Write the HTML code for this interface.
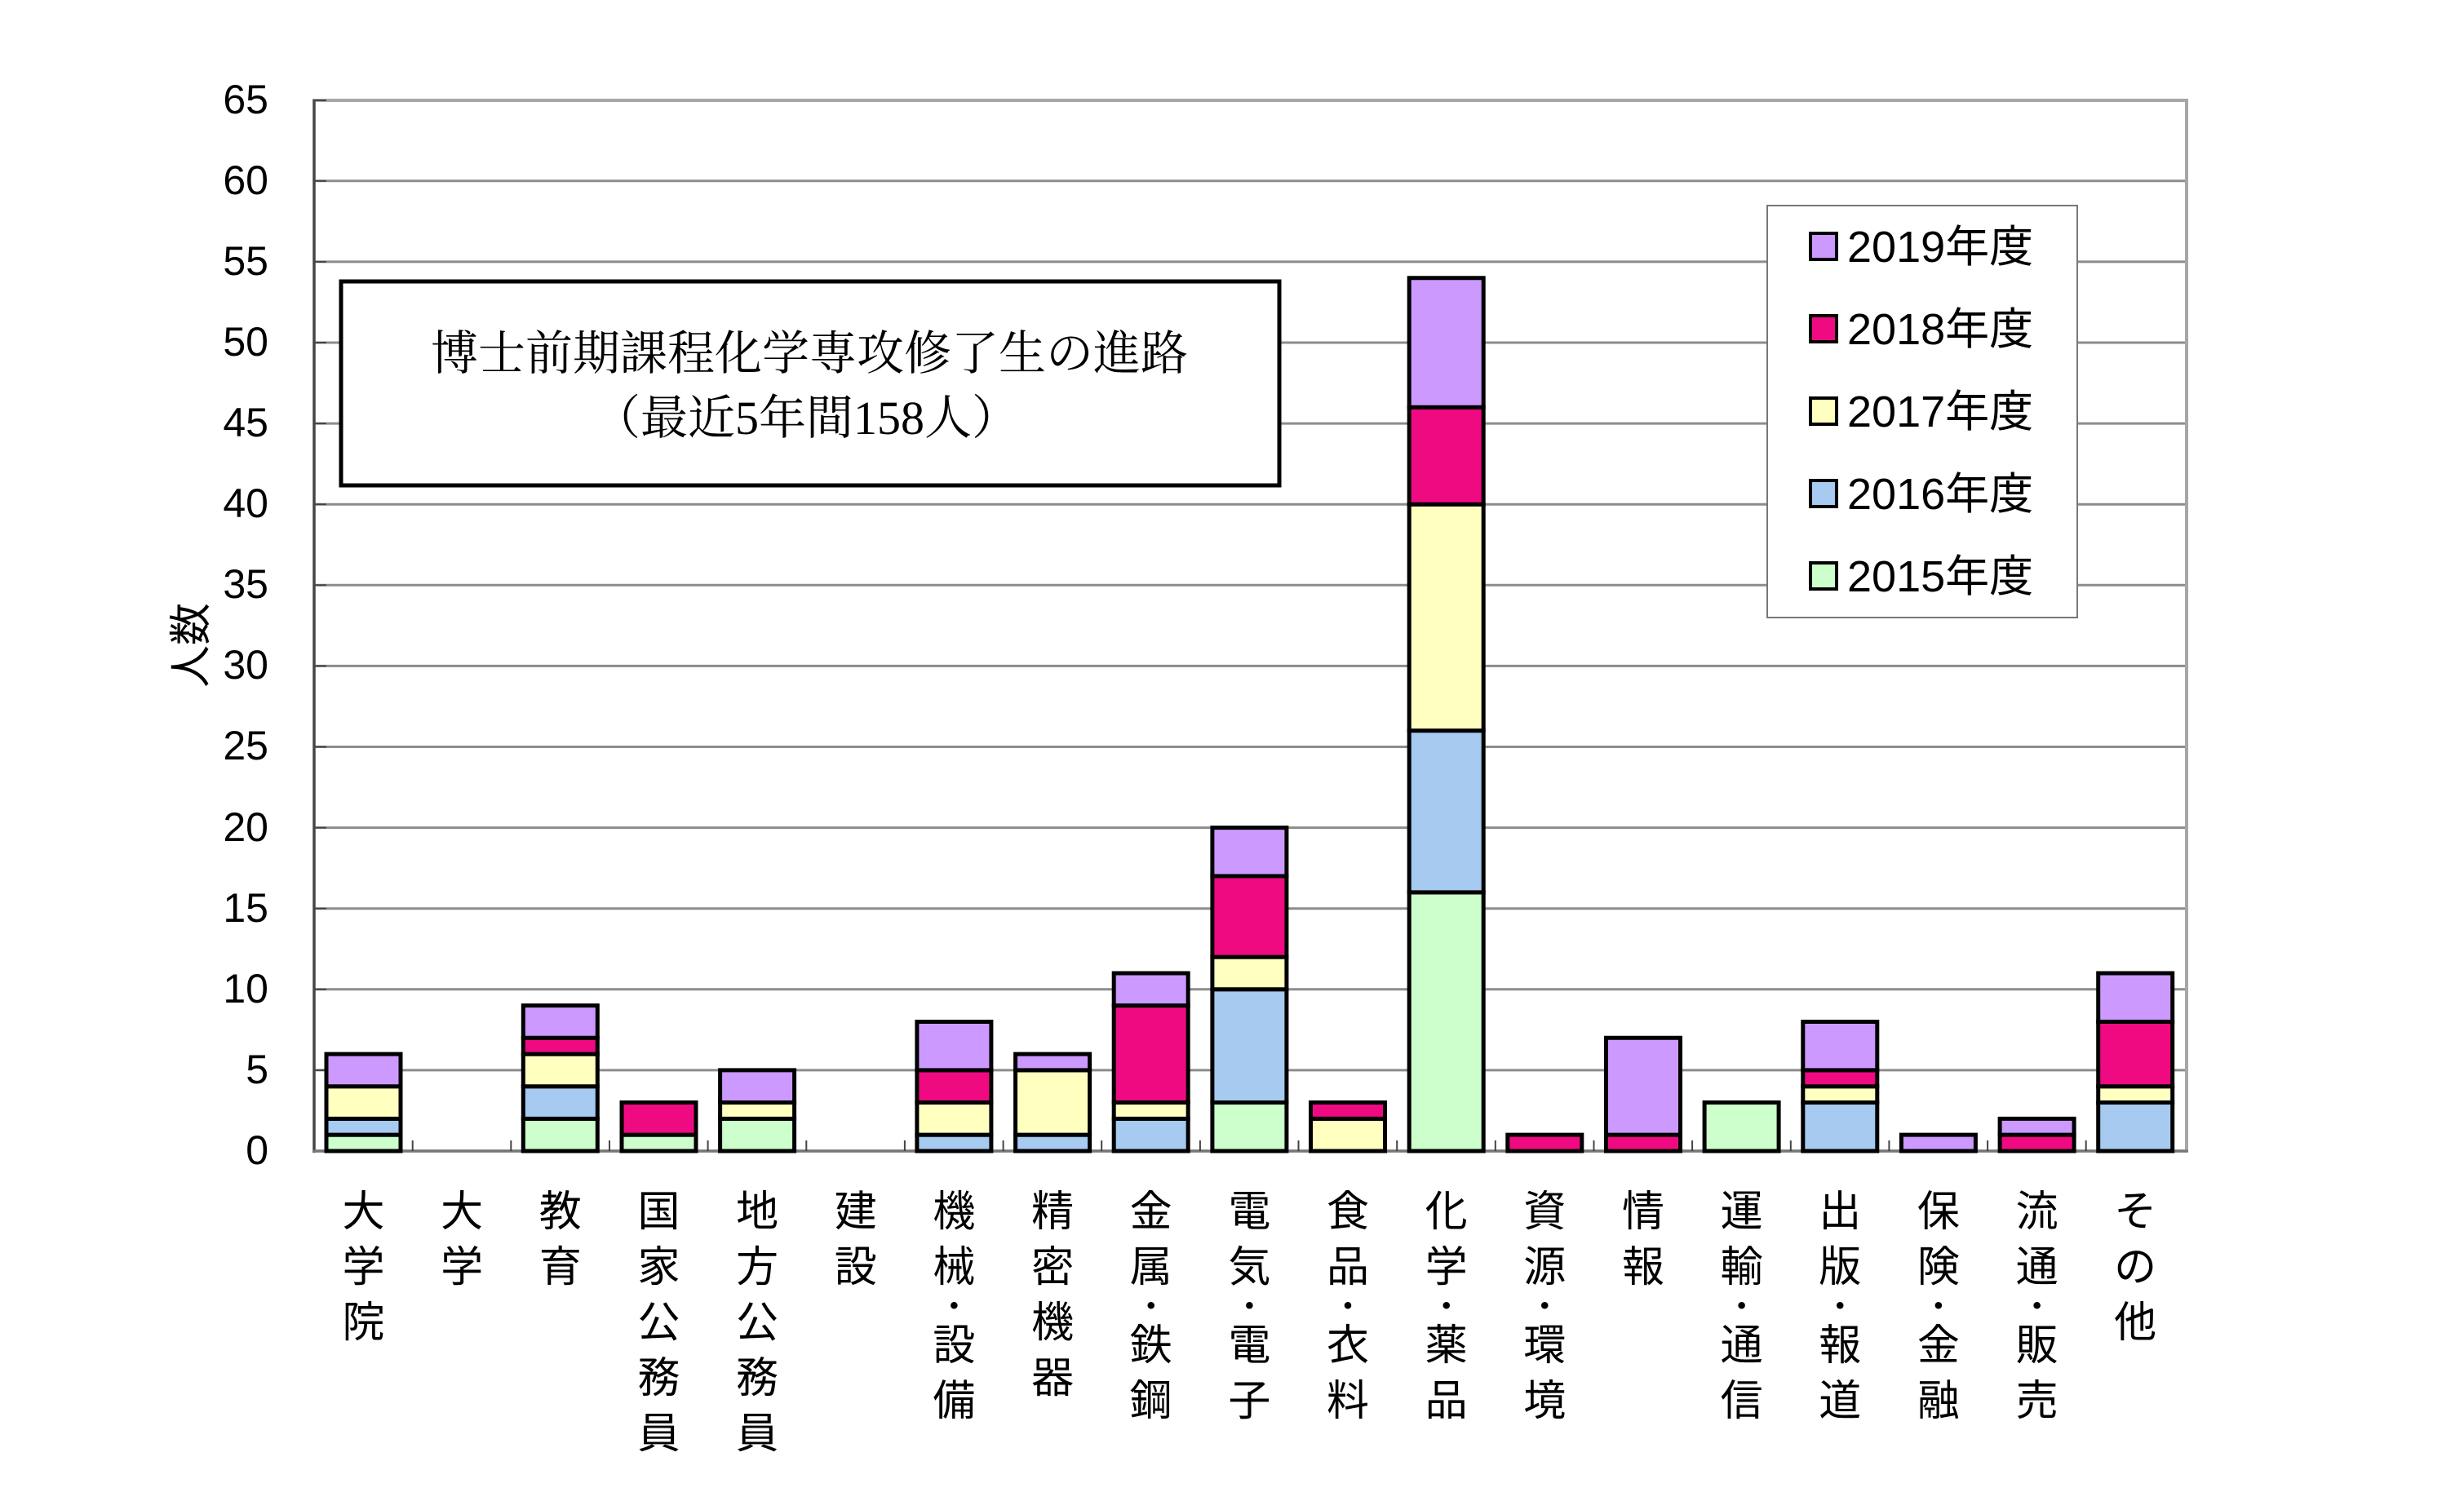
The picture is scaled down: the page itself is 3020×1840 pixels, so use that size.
<!DOCTYPE html>
<html><head><meta charset="utf-8"><style>
html,body{margin:0;padding:0;background:#fff;}
body{width:3020px;height:1840px;position:relative;overflow:hidden;font-family:"Liberation Sans","Noto Sans CJK JP",sans-serif;}
.xl{position:absolute;top:1452px;width:80px;margin-left:-40px;text-align:center;font-size:52px;color:#000;}
.xl div{height:68px;line-height:68px;}
.xl div.d{height:28px;line-height:28px;font-size:40px;}
.yt{position:absolute;width:100px;text-align:right;left:229px;font-size:50px;line-height:50px;margin-top:-26px;}
</style></head><body>
<svg width="3020" height="1840" style="position:absolute;left:0;top:0">
<g stroke="#8c8c8c" stroke-width="3">
<line x1="385" x2="2680" y1="1311.9" y2="1311.9"/>
<line x1="385" x2="2680" y1="1212.8" y2="1212.8"/>
<line x1="385" x2="2680" y1="1113.7" y2="1113.7"/>
<line x1="385" x2="2680" y1="1014.6" y2="1014.6"/>
<line x1="385" x2="2680" y1="915.5" y2="915.5"/>
<line x1="385" x2="2680" y1="816.4" y2="816.4"/>
<line x1="385" x2="2680" y1="717.3" y2="717.3"/>
<line x1="385" x2="2680" y1="618.2" y2="618.2"/>
<line x1="385" x2="2680" y1="519.1" y2="519.1"/>
<line x1="385" x2="2680" y1="420" y2="420"/>
<line x1="385" x2="2680" y1="320.9" y2="320.9"/>
<line x1="385" x2="2680" y1="221.8" y2="221.8"/>
</g>
<rect x="385" y="123" width="2295" height="1288" fill="none" stroke="#a6a6a6" stroke-width="4"/>
<line x1="385" x2="385" y1="122" y2="1413" stroke="#444" stroke-width="3"/>
<line x1="383" x2="2682" y1="1411" y2="1411" stroke="#777" stroke-width="3"/>
<g stroke="#444" stroke-width="2">
<line x1="385" x2="400" y1="123" y2="123"/><line x1="385" x2="400" y1="221.8" y2="221.8"/><line x1="385" x2="400" y1="320.9" y2="320.9"/><line x1="385" x2="400" y1="420" y2="420"/><line x1="385" x2="400" y1="519.1" y2="519.1"/><line x1="385" x2="400" y1="618.2" y2="618.2"/><line x1="385" x2="400" y1="717.3" y2="717.3"/><line x1="385" x2="400" y1="816.4" y2="816.4"/><line x1="385" x2="400" y1="915.5" y2="915.5"/><line x1="385" x2="400" y1="1014.6" y2="1014.6"/><line x1="385" x2="400" y1="1113.7" y2="1113.7"/><line x1="385" x2="400" y1="1212.8" y2="1212.8"/><line x1="385" x2="400" y1="1311.9" y2="1311.9"/>
<line x1="505.7" x2="505.7" y1="1398" y2="1411"/><line x1="626.3" x2="626.3" y1="1398" y2="1411"/><line x1="747" x2="747" y1="1398" y2="1411"/><line x1="867.6" x2="867.6" y1="1398" y2="1411"/><line x1="988.3" x2="988.3" y1="1398" y2="1411"/><line x1="1108.9" x2="1108.9" y1="1398" y2="1411"/><line x1="1229.6" x2="1229.6" y1="1398" y2="1411"/><line x1="1350.2" x2="1350.2" y1="1398" y2="1411"/><line x1="1470.9" x2="1470.9" y1="1398" y2="1411"/><line x1="1591.5" x2="1591.5" y1="1398" y2="1411"/><line x1="1712.2" x2="1712.2" y1="1398" y2="1411"/><line x1="1832.8" x2="1832.8" y1="1398" y2="1411"/><line x1="1953.5" x2="1953.5" y1="1398" y2="1411"/><line x1="2074.1" x2="2074.1" y1="1398" y2="1411"/><line x1="2194.8" x2="2194.8" y1="1398" y2="1411"/><line x1="2315.4" x2="2315.4" y1="1398" y2="1411"/><line x1="2436.1" x2="2436.1" y1="1398" y2="1411"/><line x1="2556.7" x2="2556.7" y1="1398" y2="1411"/>
</g>
<g transform="translate(0,1411) scale(1,-19.82)" stroke="#000" stroke-width="5">
<rect vector-effect="non-scaling-stroke" x="400" width="91" y="0" height="1" fill="#CCFFCC"/>
<rect vector-effect="non-scaling-stroke" x="400" width="91" y="1" height="1" fill="#A6CAF0"/>
<rect vector-effect="non-scaling-stroke" x="400" width="91" y="2" height="2" fill="#FFFFC0"/>
<rect vector-effect="non-scaling-stroke" x="400" width="91" y="4" height="2" fill="#CC99FF"/>
<rect vector-effect="non-scaling-stroke" x="641.3" width="91" y="0" height="2" fill="#CCFFCC"/>
<rect vector-effect="non-scaling-stroke" x="641.3" width="91" y="2" height="2" fill="#A6CAF0"/>
<rect vector-effect="non-scaling-stroke" x="641.3" width="91" y="4" height="2" fill="#FFFFC0"/>
<rect vector-effect="non-scaling-stroke" x="641.3" width="91" y="6" height="1" fill="#EF0A82"/>
<rect vector-effect="non-scaling-stroke" x="641.3" width="91" y="7" height="2" fill="#CC99FF"/>
<rect vector-effect="non-scaling-stroke" x="762" width="91" y="0" height="1" fill="#CCFFCC"/>
<rect vector-effect="non-scaling-stroke" x="762" width="91" y="1" height="2" fill="#EF0A82"/>
<rect vector-effect="non-scaling-stroke" x="882.6" width="91" y="0" height="2" fill="#CCFFCC"/>
<rect vector-effect="non-scaling-stroke" x="882.6" width="91" y="2" height="1" fill="#FFFFC0"/>
<rect vector-effect="non-scaling-stroke" x="882.6" width="91" y="3" height="2" fill="#CC99FF"/>
<rect vector-effect="non-scaling-stroke" x="1123.9" width="91" y="0" height="1" fill="#A6CAF0"/>
<rect vector-effect="non-scaling-stroke" x="1123.9" width="91" y="1" height="2" fill="#FFFFC0"/>
<rect vector-effect="non-scaling-stroke" x="1123.9" width="91" y="3" height="2" fill="#EF0A82"/>
<rect vector-effect="non-scaling-stroke" x="1123.9" width="91" y="5" height="3" fill="#CC99FF"/>
<rect vector-effect="non-scaling-stroke" x="1244.6" width="91" y="0" height="1" fill="#A6CAF0"/>
<rect vector-effect="non-scaling-stroke" x="1244.6" width="91" y="1" height="4" fill="#FFFFC0"/>
<rect vector-effect="non-scaling-stroke" x="1244.6" width="91" y="5" height="1" fill="#CC99FF"/>
<rect vector-effect="non-scaling-stroke" x="1365.2" width="91" y="0" height="2" fill="#A6CAF0"/>
<rect vector-effect="non-scaling-stroke" x="1365.2" width="91" y="2" height="1" fill="#FFFFC0"/>
<rect vector-effect="non-scaling-stroke" x="1365.2" width="91" y="3" height="6" fill="#EF0A82"/>
<rect vector-effect="non-scaling-stroke" x="1365.2" width="91" y="9" height="2" fill="#CC99FF"/>
<rect vector-effect="non-scaling-stroke" x="1485.9" width="91" y="0" height="3" fill="#CCFFCC"/>
<rect vector-effect="non-scaling-stroke" x="1485.9" width="91" y="3" height="7" fill="#A6CAF0"/>
<rect vector-effect="non-scaling-stroke" x="1485.9" width="91" y="10" height="2" fill="#FFFFC0"/>
<rect vector-effect="non-scaling-stroke" x="1485.9" width="91" y="12" height="5" fill="#EF0A82"/>
<rect vector-effect="non-scaling-stroke" x="1485.9" width="91" y="17" height="3" fill="#CC99FF"/>
<rect vector-effect="non-scaling-stroke" x="1606.5" width="91" y="0" height="2" fill="#FFFFC0"/>
<rect vector-effect="non-scaling-stroke" x="1606.5" width="91" y="2" height="1" fill="#EF0A82"/>
<rect vector-effect="non-scaling-stroke" x="1727.2" width="91" y="0" height="16" fill="#CCFFCC"/>
<rect vector-effect="non-scaling-stroke" x="1727.2" width="91" y="16" height="10" fill="#A6CAF0"/>
<rect vector-effect="non-scaling-stroke" x="1727.2" width="91" y="26" height="14" fill="#FFFFC0"/>
<rect vector-effect="non-scaling-stroke" x="1727.2" width="91" y="40" height="6" fill="#EF0A82"/>
<rect vector-effect="non-scaling-stroke" x="1727.2" width="91" y="46" height="8" fill="#CC99FF"/>
<rect vector-effect="non-scaling-stroke" x="1847.8" width="91" y="0" height="1" fill="#EF0A82"/>
<rect vector-effect="non-scaling-stroke" x="1968.5" width="91" y="0" height="1" fill="#EF0A82"/>
<rect vector-effect="non-scaling-stroke" x="1968.5" width="91" y="1" height="6" fill="#CC99FF"/>
<rect vector-effect="non-scaling-stroke" x="2089.1" width="91" y="0" height="3" fill="#CCFFCC"/>
<rect vector-effect="non-scaling-stroke" x="2209.8" width="91" y="0" height="3" fill="#A6CAF0"/>
<rect vector-effect="non-scaling-stroke" x="2209.8" width="91" y="3" height="1" fill="#FFFFC0"/>
<rect vector-effect="non-scaling-stroke" x="2209.8" width="91" y="4" height="1" fill="#EF0A82"/>
<rect vector-effect="non-scaling-stroke" x="2209.8" width="91" y="5" height="3" fill="#CC99FF"/>
<rect vector-effect="non-scaling-stroke" x="2330.4" width="91" y="0" height="1" fill="#CC99FF"/>
<rect vector-effect="non-scaling-stroke" x="2451.1" width="91" y="0" height="1" fill="#EF0A82"/>
<rect vector-effect="non-scaling-stroke" x="2451.1" width="91" y="1" height="1" fill="#CC99FF"/>
<rect vector-effect="non-scaling-stroke" x="2571.7" width="91" y="0" height="3" fill="#A6CAF0"/>
<rect vector-effect="non-scaling-stroke" x="2571.7" width="91" y="3" height="1" fill="#FFFFC0"/>
<rect vector-effect="non-scaling-stroke" x="2571.7" width="91" y="4" height="4" fill="#EF0A82"/>
<rect vector-effect="non-scaling-stroke" x="2571.7" width="91" y="8" height="3" fill="#CC99FF"/>
</g>
<rect x="418" y="345" width="1150" height="250" fill="#fff" stroke="#000" stroke-width="5"/>
<text x="992" y="453" text-anchor="middle" font-family="'Liberation Serif','Noto Serif CJK SC',serif" font-size="58">博士前期課程化学専攻修了生の進路</text>
<text x="988" y="532" text-anchor="middle" font-family="'Liberation Serif','Noto Serif CJK SC',serif" font-size="58">（最近5年間158人）</text>
<rect x="2166" y="252" width="380" height="505" fill="#fff" stroke="#777" stroke-width="2"/>
<g stroke="#000" stroke-width="4">
<rect x="2219" y="286" width="32" height="32" fill="#CC99FF"/>
<rect x="2219" y="387" width="32" height="32" fill="#EF0A82"/>
<rect x="2219" y="488" width="32" height="32" fill="#FFFFC0"/>
<rect x="2219" y="589" width="32" height="32" fill="#A6CAF0"/>
<rect x="2219" y="690" width="32" height="32" fill="#CCFFCC"/>
</g>
<g font-family="'Liberation Sans','Noto Sans CJK JP',sans-serif" font-size="54">
<text x="2264" y="321">2019年度</text>
<text x="2264" y="422">2018年度</text>
<text x="2264" y="523">2017年度</text>
<text x="2264" y="624">2016年度</text>
<text x="2264" y="725">2015年度</text>
</g>
<text transform="translate(252,791) rotate(-90)" text-anchor="middle" font-family="'Liberation Sans','Noto Sans CJK JP',sans-serif" font-size="52">人数</text>
</svg>
<div class="yt" style="top:123px">65</div>
<div class="yt" style="top:222px">60</div>
<div class="yt" style="top:321px">55</div>
<div class="yt" style="top:420px">50</div>
<div class="yt" style="top:519px">45</div>
<div class="yt" style="top:618px">40</div>
<div class="yt" style="top:717px">35</div>
<div class="yt" style="top:816px">30</div>
<div class="yt" style="top:915px">25</div>
<div class="yt" style="top:1015px">20</div>
<div class="yt" style="top:1114px">15</div>
<div class="yt" style="top:1213px">10</div>
<div class="yt" style="top:1312px">5</div>
<div class="yt" style="top:1411px">0</div>

<div class="xl" style="left:445.5px"><div>大</div><div>学</div><div>院</div></div>
<div class="xl" style="left:566.2px"><div>大</div><div>学</div></div>
<div class="xl" style="left:686.8px"><div>教</div><div>育</div></div>
<div class="xl" style="left:807.5px"><div>国</div><div>家</div><div>公</div><div>務</div><div>員</div></div>
<div class="xl" style="left:928.1px"><div>地</div><div>方</div><div>公</div><div>務</div><div>員</div></div>
<div class="xl" style="left:1048.8px"><div>建</div><div>設</div></div>
<div class="xl" style="left:1169.4px"><div>機</div><div>械</div><div class="d">・</div><div>設</div><div>備</div></div>
<div class="xl" style="left:1290.1px"><div>精</div><div>密</div><div>機</div><div>器</div></div>
<div class="xl" style="left:1410.7px"><div>金</div><div>属</div><div class="d">・</div><div>鉄</div><div>鋼</div></div>
<div class="xl" style="left:1531.4px"><div>電</div><div>気</div><div class="d">・</div><div>電</div><div>子</div></div>
<div class="xl" style="left:1652px"><div>食</div><div>品</div><div class="d">・</div><div>衣</div><div>料</div></div>
<div class="xl" style="left:1772.7px"><div>化</div><div>学</div><div class="d">・</div><div>薬</div><div>品</div></div>
<div class="xl" style="left:1893.3px"><div>資</div><div>源</div><div class="d">・</div><div>環</div><div>境</div></div>
<div class="xl" style="left:2014px"><div>情</div><div>報</div></div>
<div class="xl" style="left:2134.6px"><div>運</div><div>輸</div><div class="d">・</div><div>通</div><div>信</div></div>
<div class="xl" style="left:2255.3px"><div>出</div><div>版</div><div class="d">・</div><div>報</div><div>道</div></div>
<div class="xl" style="left:2375.9px"><div>保</div><div>険</div><div class="d">・</div><div>金</div><div>融</div></div>
<div class="xl" style="left:2496.6px"><div>流</div><div>通</div><div class="d">・</div><div>販</div><div>売</div></div>
<div class="xl" style="left:2617.2px"><div>そ</div><div>の</div><div>他</div></div>
</body></html>
